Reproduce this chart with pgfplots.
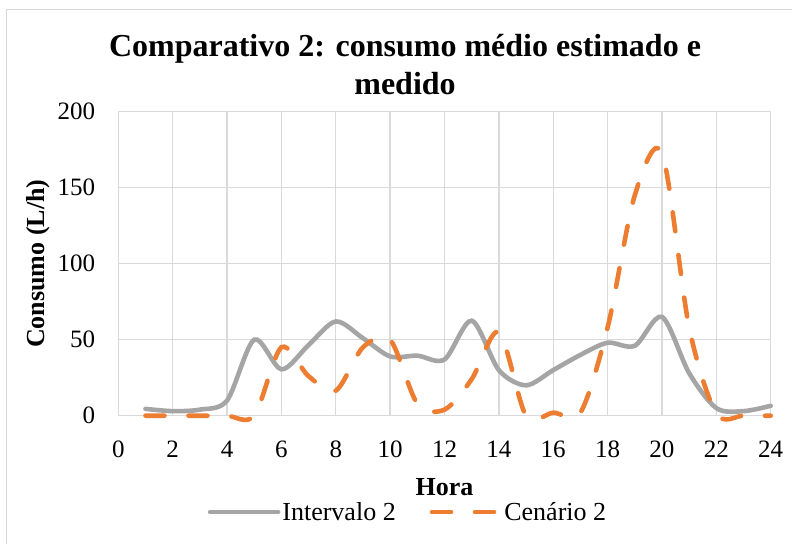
\documentclass[border=0pt]{standalone}
\usepackage{pgfplots}
\pgfplotsset{compat=1.18}
\usepackage{fontspec}
\setmainfont{Liberation Serif}
\definecolor{gridc}{HTML}{D9D9D9}
\definecolor{grayline}{HTML}{A5A5A5}
\definecolor{orangeline}{HTML}{ED7D31}

\begin{document}
\begin{tikzpicture}[x=1pt,y=1pt]
\useasboundingbox (0,0) rectangle (792,544);
\draw[gridc, line width=1.3pt] (6.7,0) -- (6.7,534.3) -- (792,534.3);
\begin{axis}[
  at={(118.3pt,128.3pt)}, anchor=south west,
  scale only axis, width=652.4pt, height=304pt,
  xmin=0, xmax=24, ymin=0, ymax=200,
  xtick={0,2,...,24}, ytick={0,50,...,200},
  grid=major, major grid style={gridc, line width=1.3pt},
  axis line style={draw=none},
  major tick length=0pt,
  clip=false,
  tick label style={font=\fontsize{25}{30}\selectfont},
  /pgf/number format/assume math mode=true,
  xticklabel style={anchor=base, yshift=-41.3pt},
  yticklabel style={anchor=east, inner sep=0pt, xshift=-23pt},
  xlabel={Hora},
  xlabel style={font=\bfseries\fontsize{26}{31}\selectfont, at={(axis description cs:0.5,-0.261)}, anchor=base},
  ylabel={Consumo (L/h)},
  ylabel style={font=\bfseries\fontsize{26}{31}\selectfont, at={(axis description cs:-0.123,0.5)}, anchor=center},
  title={Comparativo 2: consumo médio estimado e\\medido},
  title style={font=\bfseries\fontsize{32}{38}\selectfont, align=center, at={(axis description cs:0.4395,1.134)}, anchor=center},
  legend columns=2,
  legend style={at={(axis description cs:0.444,-0.317)}, anchor=center, draw=none, fill=none,
    font=\fontsize{26}{31}\selectfont,
    /tikz/every even column/.append style={column sep=32pt},
    nodes={inner sep=2pt}},
  legend image code/.code={\draw[#1] (0pt,0pt) -- (68pt,0pt);},
]
\addplot[grayline, line width=4.6pt, smooth, tension=0.5, line cap=round] coordinates {
(1,4.5) (2,3) (3,4) (4,10) (5,50) (6,30.5) (7,46.5) (8,62) (9,51) (10,39) (11,39.5) (12,37)
(13,62.5) (14,30) (15,20) (16,30) (17,40) (18,48) (19,46) (20,65) (21,28) (22,5) (23,3) (24,6.5)
};
\addlegendentry{Intervalo 2}
\addplot[orangeline, line width=4.6pt, smooth, tension=0.5, line cap=round, dash pattern=on 19pt off 24pt] coordinates {
(1,0) (2,0) (3,0) (4,0) (5,0) (6,45) (7,26) (8,16.5) (9,45) (10,50) (11,8) (12,4)
(13,24) (14,55) (15,0) (16,2) (17,2) (18,58) (19,145) (20,173) (21,58) (22,1.5) (23,0) (24,0)
};
\addlegendentry{Cenário 2}
\end{axis}
\end{tikzpicture}
\end{document}
